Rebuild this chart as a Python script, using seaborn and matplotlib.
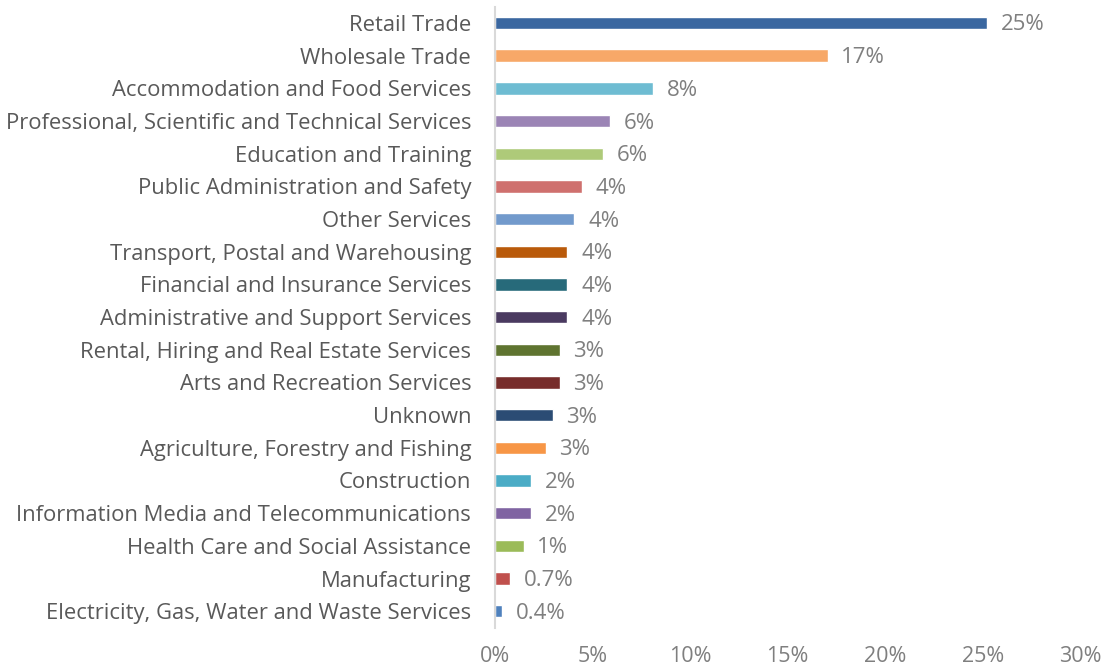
import matplotlib
matplotlib.use("Agg")
import matplotlib.pyplot as plt
import seaborn as sns
import pandas as pd

categories = [
    "Retail Trade", "Wholesale Trade", "Accommodation and Food Services",
    "Professional, Scientific and Technical Services", "Education and Training",
    "Public Administration and Safety", "Other Services",
    "Transport, Postal and Warehousing", "Financial and Insurance Services",
    "Administrative and Support Services", "Rental, Hiring and Real Estate Services",
    "Arts and Recreation Services", "Unknown", "Agriculture, Forestry and Fishing",
    "Construction", "Information Media and Telecommunications",
    "Health Care and Social Assistance", "Manufacturing",
    "Electricity, Gas, Water and Waste Services",
]
values = [25.2, 17.05, 8.1, 5.9, 5.55, 4.45, 4.08, 3.72, 3.72, 3.72,
          3.32, 3.32, 2.96, 2.6, 1.84, 1.84, 1.48, 0.77, 0.37]
labels = ["25%", "17%", "8%", "6%", "6%", "4%", "4%", "4%", "4%", "4%",
          "3%", "3%", "3%", "3%", "2%", "2%", "1%", "0.7%", "0.4%"]
colors = ["#3A67A0", "#F7A868", "#6EBCD2", "#9B84B5", "#AECA79", "#CF706E",
          "#729ACC", "#B95A0A", "#276A7A", "#4A3A60", "#5F7430", "#772D2B",
          "#2B4C74", "#F79646", "#4BACC6", "#8064A2", "#9BBB59", "#C0504D",
          "#4F81BD"]
xticks = [0, 5, 10, 15, 20, 25, 30]
xticklabels = ["0%", "5%", "10%", "15%", "20%", "25%", "30%"]

df = pd.DataFrame({"cat": categories, "val": values})

sns.set_theme(style="white")
plt.rcParams["font.family"] = ["Open Sans", "DejaVu Sans"]

fig = plt.figure(figsize=(11.07, 6.69), dpi=100)
ax = fig.add_axes([0.447, 0.062, 0.529, 0.928])
sns.barplot(data=df, x="val", y="cat", hue="cat", palette=colors, legend=False,
            width=0.38, ax=ax, saturation=1)

for i, (v, lab) in enumerate(zip(values, labels)):
    ax.text(v + 0.7, i + 0.06, lab, va="center", ha="left", fontsize=16, color="#7F7F7F")

ax.set_xlim(0, 30)
ax.set_ylim(18.5, -0.5)
ax.set_xticks(xticks)
ax.set_xticklabels(xticklabels, fontsize=15.5, color="#7F7F7F")
ax.tick_params(axis="x", length=0, pad=13)
ax.tick_params(axis="y", length=0, pad=17, labelsize=15.8, labelcolor="#595959")
ax.set_xlabel("")
ax.set_ylabel("")
for s in ["top", "right", "bottom"]:
    ax.spines[s].set_visible(False)
ax.spines["left"].set_color("#D9D9D9")
ax.spines["left"].set_linewidth(1.5)
ax.grid(False)

fig.savefig("out.png", dpi=100, facecolor="white")
